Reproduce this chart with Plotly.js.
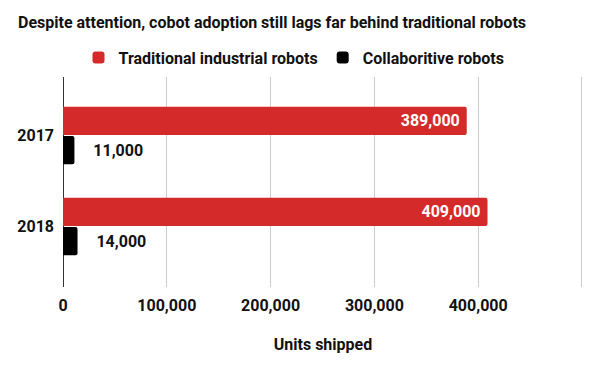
<!DOCTYPE html>
<html>
<head>
<meta charset="utf-8">
<script src="https://cdn.plot.ly/plotly-3.0.1.min.js"></script>
<style>html,body{margin:0;padding:0;background:#fff;}#chart{width:600px;height:371px;}</style>
</head>
<body>
<div id="chart"></div>
<script>
const years = ['2017', '2018'];
const traditional = [389000, 409000];
const collaborative = [11000, 14000];
const seriesNames = ['Traditional industrial robots', 'Collaboritive robots'];
const xTickVals = [0, 100000, 200000, 300000, 400000, 500000];
const xTickText = ['0', '100,000', '200,000', '300,000', '400,000', ''];

const fmt = v => v.toLocaleString('en-US');
const boldFont = {family: 'Roboto, Arial, sans-serif', size: 16, color: '#111', weight: 700};

const traces = [
  {
    type: 'bar', orientation: 'h', name: seriesNames[0],
    y: years, x: traditional,
    marker: {color: '#d52a2a', cornerradius: 2},
    text: traditional.map(v => fmt(v) + '\u00a0'),
    textposition: 'inside', insidetextanchor: 'end',
    textfont: Object.assign({}, boldFont, {color: '#ffffff'}),
    hoverinfo: 'x+name'
  },
  {
    type: 'bar', orientation: 'h', name: seriesNames[1],
    y: years, x: collaborative,
    marker: {color: '#000000', cornerradius: 2},
    text: collaborative.map(v => '\u00a0\u00a0\u00a0\u00a0' + fmt(v)),
    textposition: 'outside', cliponaxis: false,
    textfont: Object.assign({}, boldFont, {color: '#111'}),
    hoverinfo: 'x+name'
  }
];

const layout = {
  width: 600, height: 371,
  margin: {l: 63, r: 17, t: 77, b: 84},
  paper_bgcolor: '#fff', plot_bgcolor: '#fff',
  font: boldFont,
  title: {
    text: 'Despite attention, cobot adoption still lags far behind traditional robots',
    font: boldFont,
    x: 18 / 600, xref: 'container', xanchor: 'left',
    y: 1 - 22 / 371, yref: 'container', yanchor: 'middle'
  },
  showlegend: true,
  legend: {
    orientation: 'h', x: 0.49, xref: 'container', xanchor: 'center',
    y: 1 - 57.5 / 371, yref: 'container', yanchor: 'middle',
    font: boldFont, itemwidth: 30, traceorder: 'normal'
  },
  barmode: 'group', bargap: 0.36, bargroupgap: 0.03,
  xaxis: {
    range: [0, 501000], tickvals: xTickVals, ticktext: xTickText,
    showgrid: true, gridcolor: '#cccccc', gridwidth: 1,
    zeroline: true, zerolinecolor: '#333333', zerolinewidth: 1,
    showline: false, ticks: '', ticklabelstandoff: 7,
    tickfont: boldFont,
    title: {text: 'Units shipped', font: boldFont, standoff: 24},
    automargin: false, fixedrange: true
  },
  yaxis: {
    type: 'category', categoryorder: 'array', categoryarray: years,
    range: [1.665, -0.643], showgrid: false, zeroline: false, showline: false,
    ticks: '', ticklabelstandoff: 8, tickfont: boldFont,
    automargin: false, fixedrange: true
  }
};

Plotly.newPlot('chart', traces, layout, {displayModeBar: false, staticPlot: true});
</script>
</body>
</html>
